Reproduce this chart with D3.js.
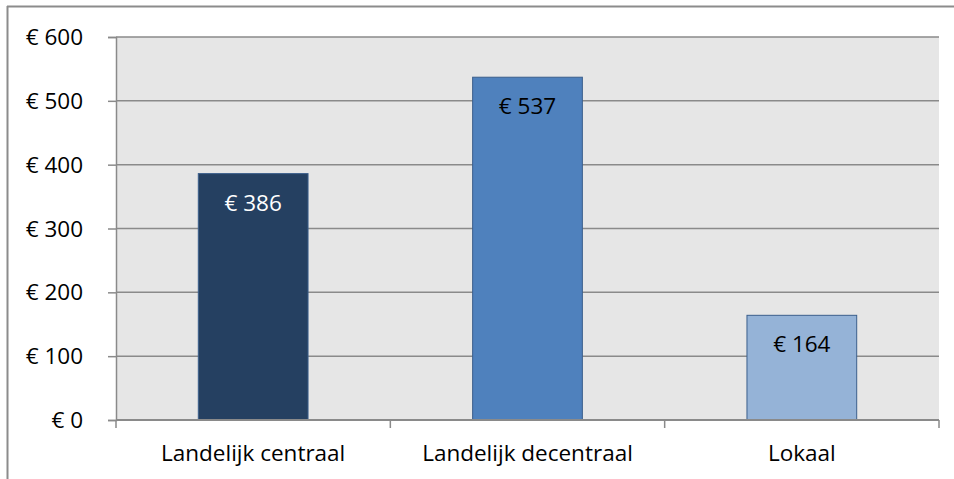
<!DOCTYPE html>
<html>
<head>
<meta charset="utf-8">
<script src="https://cdn.jsdelivr.net/npm/d3@7"></script>
<style>
  body { margin: 0; background: #fff; }
  svg { display: block; }
  text { font-family: "Open Sans", "Noto Sans", sans-serif; }
</style>
</head>
<body>
<div id="chart"></div>
<script>
// Chart data
const categories = ['Landelijk centraal', 'Landelijk decentraal', 'Lokaal'];
const values = [386, 537, 164];
const barColors = ['#254061', '#4F81BD', '#95B3D7'];
const labelColors = ['#ffffff', '#000000', '#000000'];
const yTicks = [0, 100, 200, 300, 400, 500, 600];

const width = 954;
const height = 479;
const margin = { top: 37, left: 116 };
const innerW = 939 - margin.left;
const innerH = 420 - margin.top;
const fontSize = 22.5;

const svg = d3.select('#chart')
  .append('svg')
  .attr('width', width)
  .attr('height', height);

// frame lines of the cropped chart
svg.append('line')
  .attr('x1', 7.5).attr('x2', 7.5).attr('y1', 6).attr('y2', height)
  .attr('stroke', '#8c8c8c').attr('stroke-width', 2);
svg.append('line')
  .attr('x1', 7).attr('x2', width).attr('y1', 6.5).attr('y2', 6.5)
  .attr('stroke', '#8c8c8c').attr('stroke-width', 2);

const g = svg.append('g')
  .attr('transform', `translate(${margin.left},${margin.top})`);

const x = d3.scaleBand()
  .domain(categories)
  .range([0, innerW])
  .paddingInner(0.6)
  .paddingOuter(0.3);

const y = d3.scaleLinear()
  .domain([0, 600])
  .range([innerH, 0]);

// plot background
g.append('rect')
  .attr('width', innerW).attr('height', innerH)
  .attr('fill', '#e6e6e6');

// gridlines
g.selectAll('line.grid')
  .data(yTicks.filter(d => d > 0))
  .enter()
  .append('line')
  .attr('class', 'grid')
  .attr('x1', 0).attr('x2', innerW)
  .attr('y1', d => y(d)).attr('y2', d => y(d))
  .attr('stroke', '#8a8a8a').attr('stroke-width', 1.5);

// bars
g.selectAll('rect.bar')
  .data(values)
  .enter()
  .append('rect')
  .attr('class', 'bar')
  .attr('x', (d, i) => x(categories[i]))
  .attr('y', d => y(d))
  .attr('width', x.bandwidth())
  .attr('height', d => innerH - y(d))
  .attr('fill', (d, i) => barColors[i])
  .attr('stroke', '#3b5f8c').attr('stroke-width', 1);

// value labels
g.selectAll('text.value')
  .data(values)
  .enter()
  .append('text')
  .attr('class', 'value')
  .attr('x', (d, i) => x(categories[i]) + x.bandwidth() / 2)
  .attr('y', d => y(d) + 37)
  .attr('text-anchor', 'middle')
  .attr('font-size', fontSize)
  .attr('fill', (d, i) => labelColors[i])
  .text(d => '€ ' + d);

// y axis
const yAxis = d3.axisLeft(y)
  .tickValues(yTicks)
  .tickSize(8)
  .tickPadding(25)
  .tickFormat(d => '€ ' + d);
const yg = g.append('g').call(yAxis);
yg.attr('font-family', null);
yg.select('.domain').attr('stroke', '#8a8a8a').attr('stroke-width', 1.5);
yg.selectAll('.tick line').attr('stroke', '#8a8a8a').attr('stroke-width', 1.5);
yg.selectAll('.tick text')
  .attr('font-size', fontSize).attr('fill', '#000')
  .attr('dy', '0.34em');

// x axis with ticks at category boundaries
const xg = g.append('g').attr('transform', `translate(0,${innerH})`);
xg.append('line')
  .attr('x1', 0).attr('x2', innerW)
  .attr('stroke', '#8a8a8a').attr('stroke-width', 2);
const step = x.step();
xg.selectAll('line.tick')
  .data(d3.range(categories.length + 1))
  .enter()
  .append('line')
  .attr('class', 'tick')
  .attr('x1', i => i * step).attr('x2', i => i * step)
  .attr('y1', 0).attr('y2', 8)
  .attr('stroke', '#8a8a8a').attr('stroke-width', 1.5);
xg.selectAll('text')
  .data(categories)
  .enter()
  .append('text')
  .attr('x', d => x(d) + x.bandwidth() / 2)
  .attr('y', 41)
  .attr('text-anchor', 'middle')
  .attr('font-size', fontSize)
  .attr('fill', '#000')
  .text(d => d);
</script>
</body>
</html>
